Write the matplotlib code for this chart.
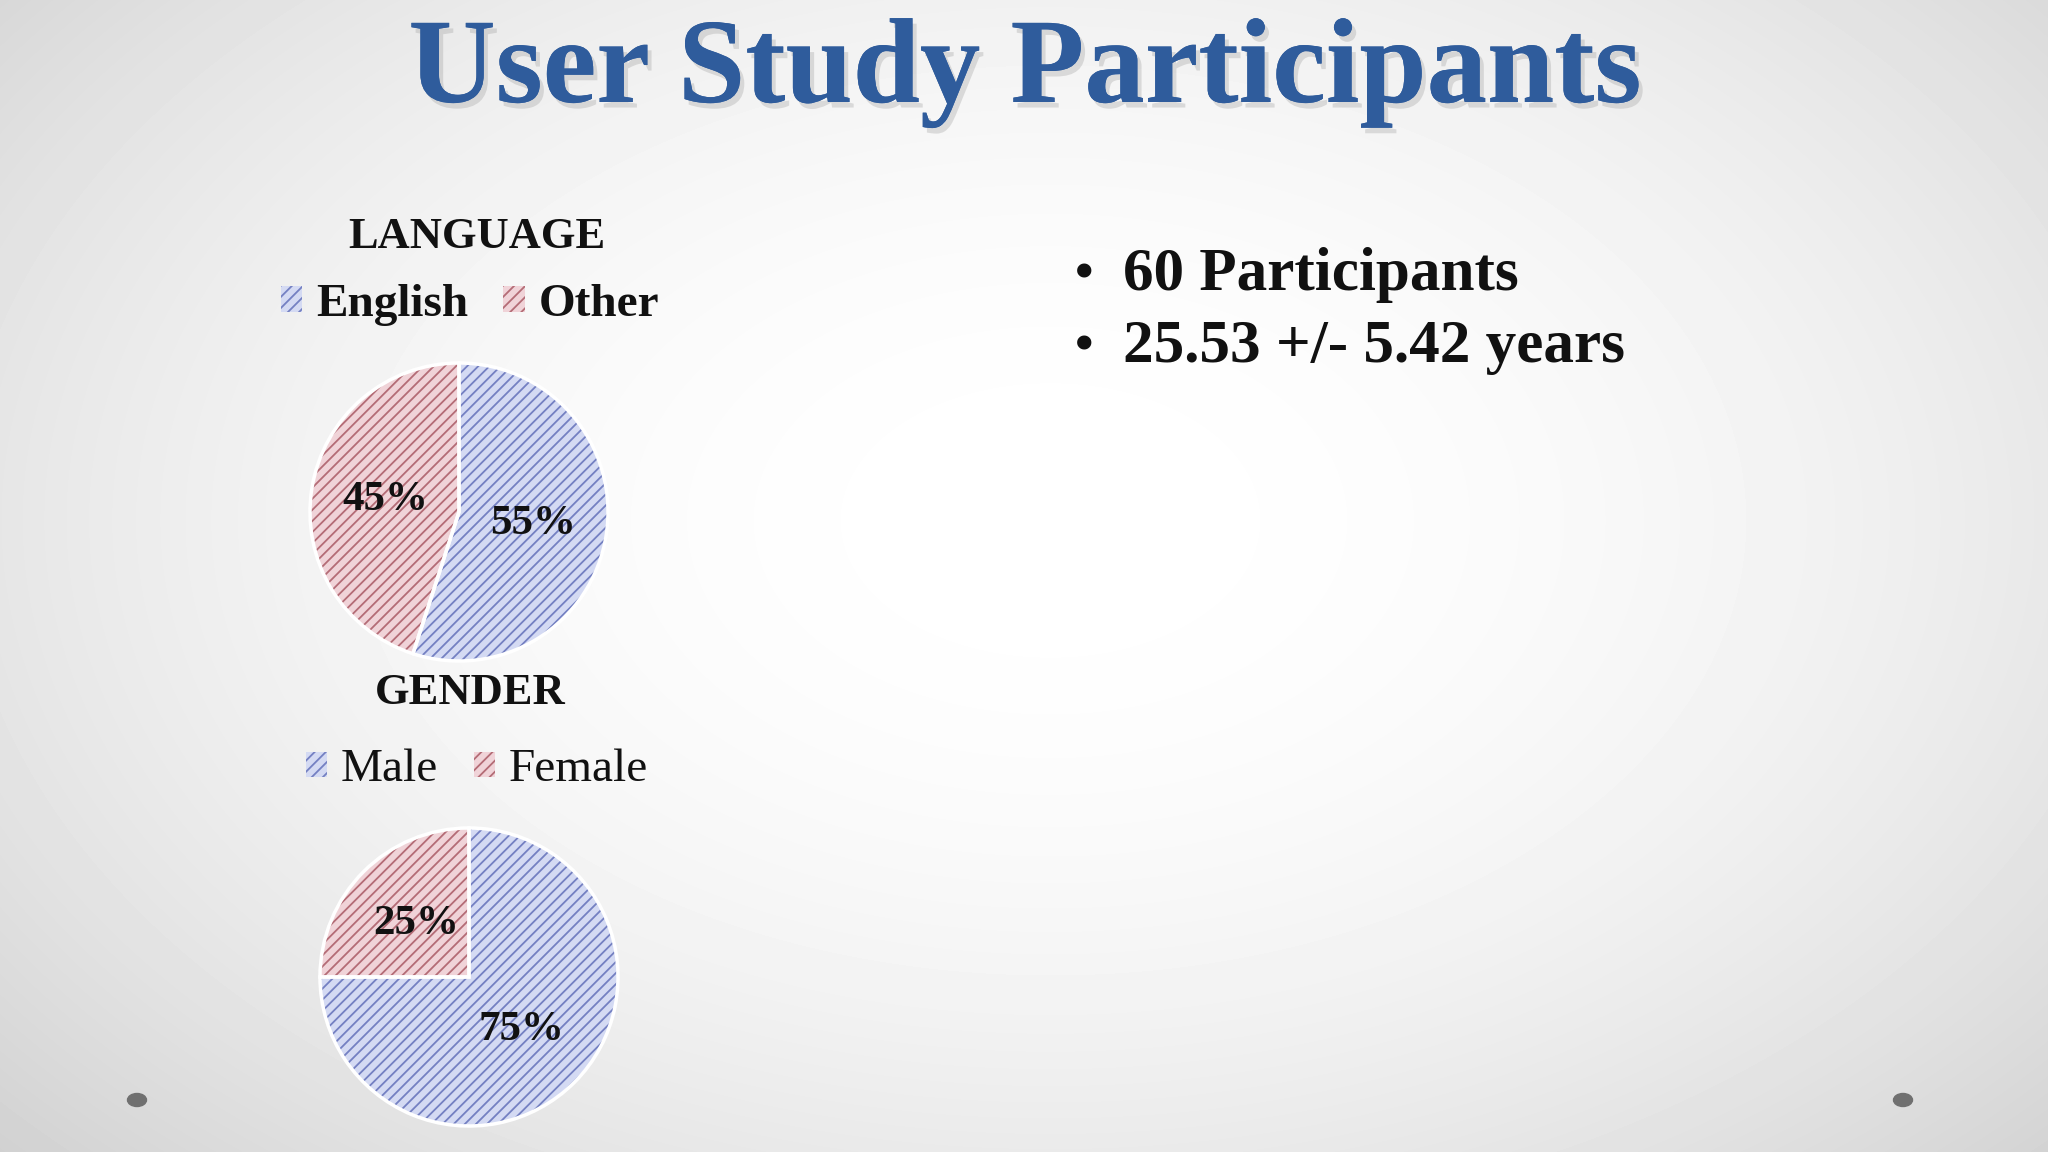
import numpy as np
import matplotlib.pyplot as plt
import matplotlib.patheffects as pe
from matplotlib.patches import Patch, Ellipse

# data
lang_labels = ["English", "Other"]
lang_values = [55, 45]
gender_labels = ["Male", "Female"]
gender_values = [75, 25]
bullets = ["60 Participants", "25.53 +/- 5.42 years"]

W, H = 2048, 1152
plt.rcParams['font.family'] = ['Liberation Serif', 'DejaVu Serif']
plt.rcParams['hatch.linewidth'] = 1.3

BLUE_FACE, BLUE_HATCH = '#d4daf3', '#7480c2'
RED_FACE, RED_HATCH = '#f0d3d8', '#b46c76'

fig = plt.figure(figsize=(W / 100, H / 100), dpi=100)

# background: soft radial gradient, white in the middle
bg = fig.add_axes([0, 0, 1, 1])
yy, xx = np.mgrid[0:H, 0:W]
d = np.sqrt(((xx - 1050) / 1300.0) ** 2 + ((yy - 520) / 850.0) ** 2)
shade = 1.0 - 0.15 * np.clip(d, 0, 1.2) ** 2.0
bg.imshow(shade, cmap='gray', vmin=0, vmax=1, extent=[0, W, H, 0], aspect='auto')
bg.set_xlim(0, W)
bg.set_ylim(H, 0)
bg.axis('off')
for cx in (137, 1903):
    bg.add_patch(Ellipse((cx, 1100), 19, 13, color='#707070'))


def px_axes(cx, cy, r):
    return fig.add_axes([(cx - r) / W, (H - cy - r) / H, 2 * r / W, 2 * r / H])


def hatched_pie(ax, values):
    colors = [BLUE_FACE, RED_FACE]
    hatches = [BLUE_HATCH, RED_HATCH]
    wedges, _, autotexts = ax.pie(values, startangle=90, counterclock=False,
                                  colors=colors, autopct='%1.0f%%', pctdistance=0.5,
                                  wedgeprops=dict(linewidth=0),
                                  textprops=dict(fontsize=31, fontweight='bold', color='#111111'))
    for w, hc in zip(wedges, hatches):
        w.set_hatch('///')
        w.set_edgecolor(hc)
    # white separators between slices
    ax.pie(values, startangle=90, counterclock=False, colors=['none', 'none'],
           wedgeprops=dict(linewidth=2.5, edgecolor='white'))
    for t in autotexts:
        t.set_zorder(5)
    ax.set_xlim(-1.02, 1.02)
    ax.set_ylim(-1.02, 1.02)
    ax.axis('off')


def legend_handles(labels):
    return [Patch(facecolor=BLUE_FACE, edgecolor=BLUE_HATCH, hatch='///', linewidth=0, label=labels[0]),
            Patch(facecolor=RED_FACE, edgecolor=RED_HATCH, hatch='///', linewidth=0, label=labels[1])]


# language pie
ax1 = px_axes(459, 512, 152)
hatched_pie(ax1, lang_values)
fig.text(477 / W, 1 - 237 / H, "LANGUAGE", ha='center', va='center',
         fontsize=32, fontweight='bold', color='#111111')
fig.legend(handles=legend_handles(lang_labels), loc='center', ncol=2, frameon=False,
           bbox_to_anchor=(470 / W, 1 - 305 / H),
           prop=dict(weight='bold', size=34), handlelength=0.45, handleheight=0.45,
           handletextpad=0.3, columnspacing=0.75, labelcolor='#111111')

# gender pie
ax2 = px_axes(469, 977, 152)
hatched_pie(ax2, gender_values)
fig.text(470 / W, 1 - 693 / H, "GENDER", ha='center', va='center',
         fontsize=32, fontweight='bold', color='#111111')
fig.legend(handles=legend_handles(gender_labels), loc='center', ncol=2, frameon=False,
           bbox_to_anchor=(477 / W, 1 - 770 / H), prop=dict(size=34),
           handlelength=0.45, handleheight=0.45, handletextpad=0.3, columnspacing=0.75,
           labelcolor='#111111')

# title with a soft shadow
fig.text(1025 / W, 1 - 73 / H, "User Study Participants", ha='center', va='center',
         fontsize=87, fontweight='bold', color='#2f5c9c',
         path_effects=[pe.withSimplePatchShadow(offset=(3, -4), shadow_rgbFace='#999999', alpha=0.3),
                       pe.Normal()])

# bullet points
for i, line in enumerate(bullets):
    y = 1 - (275 + 72 * i) / H
    fig.text(1084 / W, y, "\u2022", ha='center', va='center', fontsize=38,
             fontweight='bold', color='#111111')
    fig.text(1123 / W, y, line, ha='left', va='center', fontsize=44,
             fontweight='bold', color='#111111')

fig.savefig('out.png', dpi=100)
